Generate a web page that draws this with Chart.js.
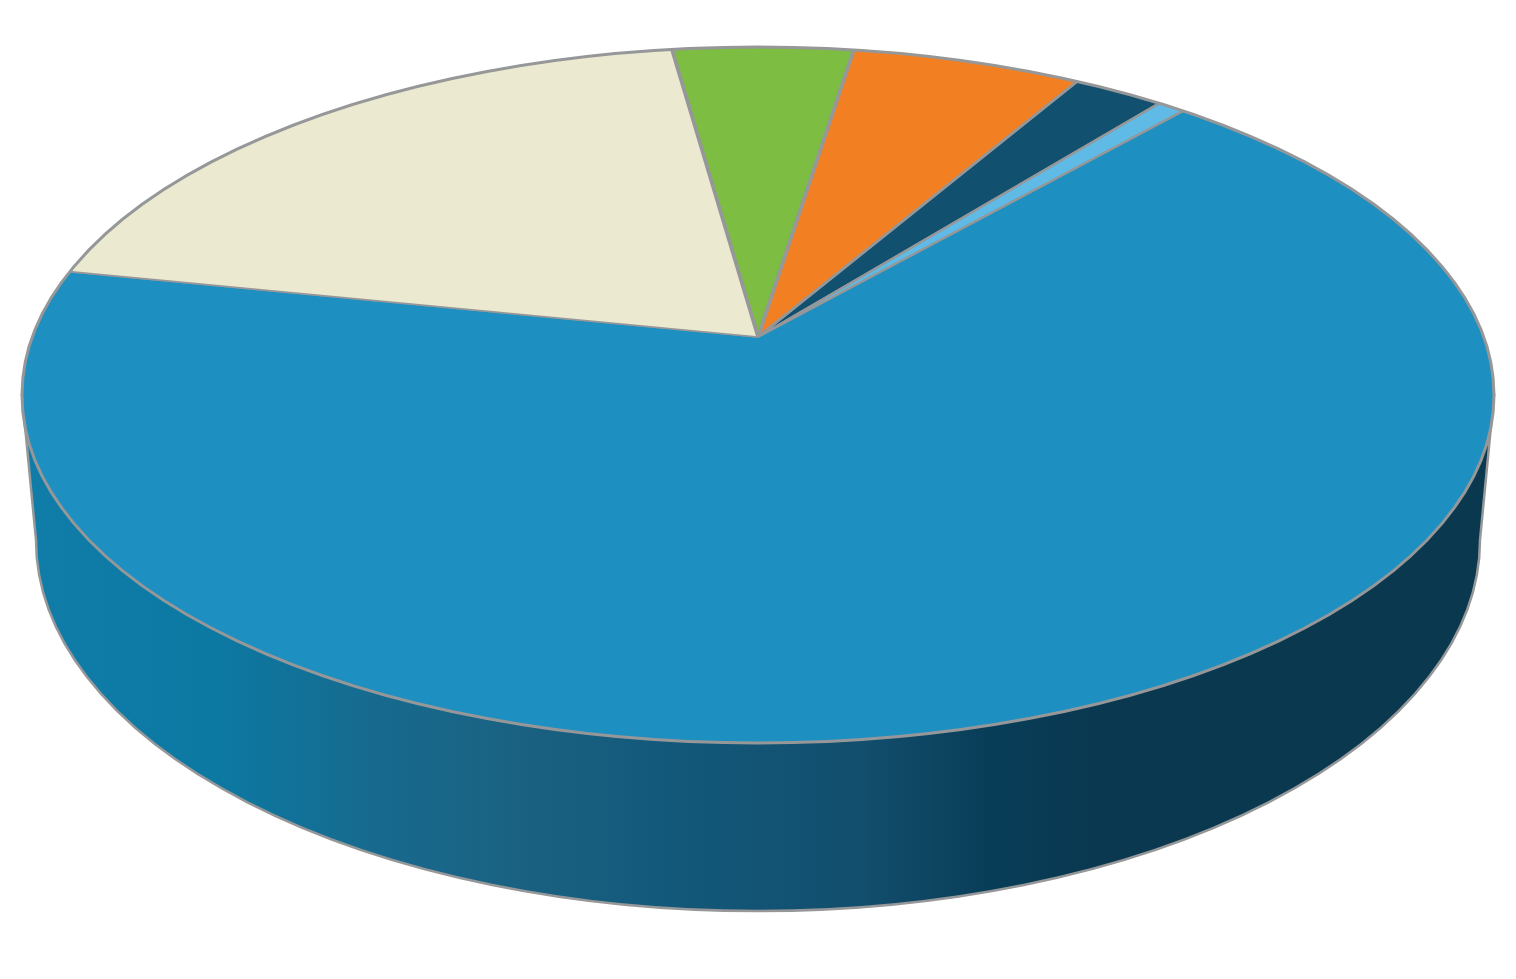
<!DOCTYPE html>
<html>
<head>
<meta charset="utf-8">
<title>3D pie</title>
<style>html,body{margin:0;padding:0;background:#fff}canvas{display:block}</style>
<script src="https://cdn.jsdelivr.net/npm/chart.js@4"></script>
</head>
<body>
<canvas id="c" width="1516" height="979"></canvas>
<script>
const categories = ["Green", "Orange", "Navy", "Sky", "Blue", "Cream"];
const values = [4.73, 6.00, 2.36, 0.72, 66.58, 19.61];
const sliceColors = ["#7cbd42", "#f28023", "#11506e", "#5fbbe6", "#1d8fc0", "#ebe9d0"];
const startAngle = -8.06;
const edgeColor = "#959799";

const top3d = {cx: 758, cy: 395, rx: 736, ry: 348};
const bottom3d = {cx: 758, cy: 540, rx: 722, ry: 371};
const apex = {x: 758, y: 337};
const squash = 348 / 736;
const reach = 900;

const wallStops = [
  [0.00, "#0f7da8"], [0.13, "#0c79a3"], [0.24, "#176a8e"], [0.34, "#1a6181"],
  [0.42, "#135a7c"], [0.57, "#124e6d"], [0.66, "#083d57"], [0.73, "#0a3850"], [1.00, "#0a384e"]
];

const solidPie = {
  id: "solidPie",
  beforeDatasetsDraw(chart) {
    const ctx = chart.ctx;
    const el = chart.getDatasetMeta(0).data[0];
    // side wall
    ctx.save();
    const g = ctx.createLinearGradient(top3d.cx - top3d.rx, 0, top3d.cx + top3d.rx, 0);
    wallStops.forEach(s => g.addColorStop(s[0], s[1]));
    ctx.beginPath();
    ctx.moveTo(top3d.cx - top3d.rx, top3d.cy);
    ctx.lineTo(bottom3d.cx - bottom3d.rx, bottom3d.cy);
    ctx.ellipse(bottom3d.cx, bottom3d.cy, bottom3d.rx, bottom3d.ry, 0, Math.PI, 0, true);
    ctx.lineTo(top3d.cx + top3d.rx, top3d.cy);
    ctx.closePath();
    ctx.fillStyle = g;
    ctx.fill();
    ctx.strokeStyle = edgeColor;
    ctx.lineWidth = 2.5;
    ctx.stroke();
    ctx.restore();
    // top face: pie seen in perspective, cut by the rim
    ctx.save();
    ctx.beginPath();
    ctx.ellipse(top3d.cx, top3d.cy, top3d.rx, top3d.ry, 0, 0, Math.PI * 2);
    ctx.clip();
    const k = reach / el.outerRadius;
    ctx.translate(apex.x, apex.y);
    ctx.scale(k, k * squash);
    ctx.translate(-el.x, -el.y);
  },
  afterDatasetsDraw(chart) {
    const ctx = chart.ctx;
    ctx.restore();
    ctx.save();
    ctx.beginPath();
    ctx.ellipse(top3d.cx, top3d.cy, top3d.rx, top3d.ry, 0, 0, Math.PI * 2);
    ctx.strokeStyle = edgeColor;
    ctx.lineWidth = 3;
    ctx.stroke();
    ctx.restore();
  }
};

new Chart(document.getElementById("c"), {
  type: "pie",
  data: {
    labels: categories,
    datasets: [{
      data: values,
      backgroundColor: sliceColors,
      borderColor: edgeColor,
      borderWidth: 2,
      clip: false
    }]
  },
  options: {
    responsive: false,
    animation: false,
    rotation: startAngle,
    layout: {padding: 0},
    events: [],
    plugins: {legend: {display: false}, tooltip: {enabled: false}, title: {display: false}}
  },
  plugins: [solidPie]
});
</script>
</body>
</html>
